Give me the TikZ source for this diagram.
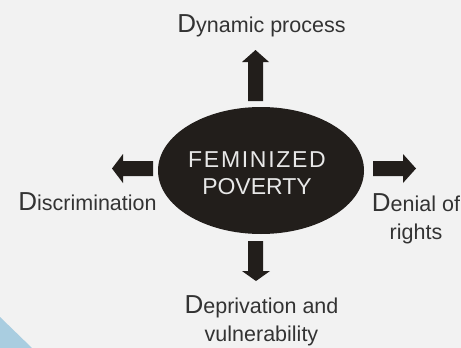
\documentclass[tikz,border=0pt]{standalone}
\usepackage{fontspec}
\setmainfont{Liberation Sans}
\usetikzlibrary{shapes.geometric}
\definecolor{bgc}{HTML}{F2F2F2}
\definecolor{darkc}{HTML}{221E1B}
\definecolor{txtc}{HTML}{333333}
\definecolor{lightc}{HTML}{E8E8E8}
\definecolor{bluec}{HTML}{A9CDE0}
\newcommand{\bigD}{{\fontsize{26}{28}\selectfont D}}
\newcommand{\ks}{\kern1.7pt}
\tikzset{
  lbl/.style={inner sep=0pt, text=txtc, align=center, font=\fontsize{21.5}{28}\selectfont},
  blockarrow/.style={fill=darkc, draw=none},
}
\begin{document}
\begin{tikzpicture}[x=1pt,y=-1pt]
\fill[bgc] (0,0) rectangle (461,348);
\useasboundingbox (0,0) rectangle (461,348);
\fill[bluec] (0,317) -- (32,348) -- (0,348) -- cycle;

\node[ellipse, fill=darkc, minimum width=206pt, minimum height=127pt, inner sep=0pt,
      text=lightc, align=center, font=\fontsize{23}{27}\selectfont] (fp) at (261,170.5)
      {};
\node[inner sep=0pt, text=lightc, align=center, font=\fontsize{23}{27}\selectfont, anchor=base]
      (fptext) at (257,194) {F\ks E\ks M\ks I\ks N\ks I\ks Z\ks E\ks D\\POVERTY};

% arrows
\fill[blockarrow] (248,101) -- (248,62) -- (242,62) -- (255.5,50) -- (269,62) -- (263,62) -- (263,101) -- cycle;
\fill[blockarrow] (248,241) -- (248,271) -- (242,271) -- (256,281) -- (270,271) -- (263,271) -- (263,241) -- cycle;
\fill[blockarrow] (153,161) -- (123,161) -- (123,154) -- (112,168.5) -- (123,183) -- (123,176) -- (153,176) -- cycle;
\fill[blockarrow] (373,161) -- (403,161) -- (403,154) -- (416,168.5) -- (403,183) -- (403,176) -- (373,176) -- cycle;

\node[lbl, anchor=base] (dyn) at (261.5,32) {\bigD ynamic process};
\node[lbl, anchor=base] (dis) at (87.5,210) {\bigD iscrimination};
\node[lbl, anchor=base] (den) at (416,239) {\bigD enial of\\rights};
\node[lbl, anchor=base] (dep) at (261.5,341) {\bigD eprivation and\\vulnerability};
\end{tikzpicture}
\end{document}
